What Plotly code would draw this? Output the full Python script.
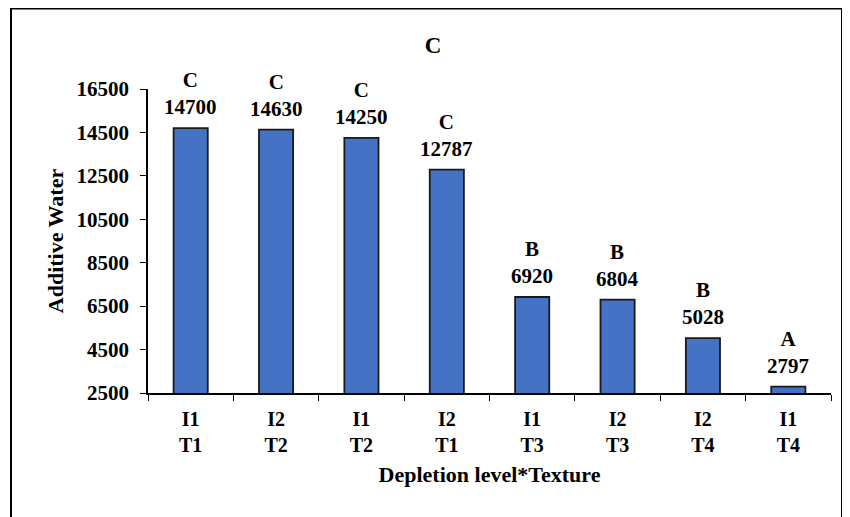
import plotly.graph_objects as go

categories = ["I1<br>T1", "I2<br>T2", "I1<br>T2", "I2<br>T1", "I1<br>T3", "I2<br>T3", "I2<br>T4", "I1<br>T4"]
values = [14700, 14630, 14250, 12787, 6920, 6804, 5028, 2797]
groups = ["C", "C", "C", "C", "B", "B", "B", "A"]
y_ticks = [2500, 4500, 6500, 8500, 10500, 12500, 14500, 16500]

FONT = "Liberation Serif"
SZ = 21
SZT = 22
fig = go.Figure()
fig.add_trace(go.Bar(
    x=categories, y=values,
    marker=dict(color="#4472C4", line=dict(color="#1a1a1a", width=1.8)),
    width=0.4, cliponaxis=True,
))
for c, v, g in zip(categories, values, groups):
    fig.add_annotation(x=c, y=v, text=f"{g}<br>{v}", showarrow=False,
                       yanchor="bottom", yshift=7,
                       font=dict(family=FONT, size=SZ, color="black", weight="bold"))

fig.add_shape(type="rect", xref="paper", yref="paper",
              x0=-0.2006, x1=1.0161, y0=-0.45, y1=1.2648,
              line=dict(color="black", width=2))

fig.update_layout(
    width=850, height=517,
    margin=dict(l=140, r=27, t=81, b=132, autoexpand=False),
    plot_bgcolor="white", paper_bgcolor="white",
    showlegend=False,
    title=dict(text="C", x=0.5, xanchor="center", y=1 - 37/517, yanchor="middle",
               font=dict(family=FONT, size=23, color="black", weight="bold")),
    font=dict(family=FONT, color="black"),
)
fig.update_xaxes(
    automargin=False,
    showline=True, linecolor="black", linewidth=1.5,
    ticks="outside", tickson="boundaries", ticklen=6, tickcolor="black",
    ticklabelstandoff=7,
    tickfont=dict(family=FONT, size=20, color="black", weight="bold"),
    title=dict(text="Depletion level*Texture", standoff=12,
               font=dict(family=FONT, size=SZT, color="black", weight="bold")),
    showgrid=False,
)
fig.update_yaxes(
    automargin=False,
    range=[2500, 16500], tickvals=y_ticks, ticktext=[str(t) for t in y_ticks],
    showline=True, linecolor="black", linewidth=1.5,
    ticks="outside", ticklen=6, tickcolor="black", ticklabelstandoff=7,
    tickfont=dict(family=FONT, size=SZ, color="black", weight="bold"),
    title=dict(text="Additive Water", standoff=7,
               font=dict(family=FONT, size=SZT, color="black", weight="bold")),
    showgrid=False, zeroline=False,
)
fig.write_html("out.html")
